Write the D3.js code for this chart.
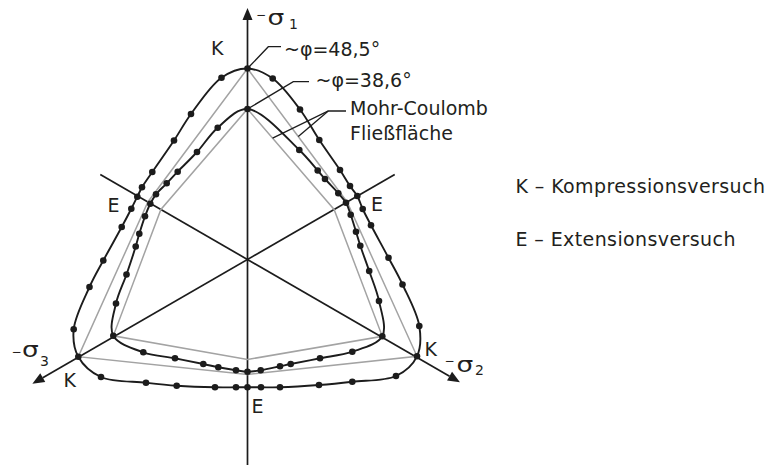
<!DOCTYPE html>
<html>
<head>
<meta charset="utf-8">
<script src="https://cdn.jsdelivr.net/npm/d3@7"></script>
<style>
  body { margin: 0; background: #fff; }
  svg { display: block; }
  text { font-family: "DejaVu Sans", sans-serif; fill: #231f20; }
</style>
</head>
<body>
<svg id="chart" width="766" height="467"></svg>
<script>
// Deviatoric (pi-) plane: x to the right, y up, hydrostatic axis at the origin.

// Measured yield points, phi ~ 48.5 deg (outer surface), clockwise from -sigma1
const yieldOuter = [
  [0, 1.91], [0.252, 1.81], [0.525, 1.50], [0.718, 1.195], [0.925, 0.895],
  [1.025, 0.735], [1.098, 0.635], [1.152, 0.505], [1.235, 0.342], [1.41, 0.017],
  [1.55, -0.25], [1.718, -0.665], [1.695, -0.968], [1.485, -1.165], [1.048, -1.222],
  [0.715, -1.255], [0.325, -1.278], [0.135, -1.278], [0, -1.278], [-0.115, -1.278],
  [-0.325, -1.278], [-0.708, -1.262], [-1.015, -1.232], [-1.465, -1.175], [-1.692, -0.972],
  [-1.738, -0.698], [-1.58, -0.275], [-1.442, -0.01], [-1.258, 0.325], [-1.162, 0.508],
  [-1.102, 0.628], [-1.055, 0.722], [-0.952, 0.875], [-0.735, 1.19], [-0.565, 1.455],
  [-0.26, 1.818]
];

// Measured yield points, phi ~ 38.6 deg (inner surface)
const yieldInner = [
  [0, 1.505], [0.518, 1.095], [0.702, 0.89], [0.775, 0.805], [0.908, 0.662],
  [0.985, 0.568], [1.032, 0.448], [1.085, 0.278], [1.128, 0.138], [1.217, -0.115],
  [1.315, -0.415], [1.348, -0.768], [1.048, -0.922], [0.725, -0.988], [0.432, -1.045],
  [0.325, -1.068], [0.132, -1.108], [0, -1.122], [-0.115, -1.108], [-0.292, -1.078],
  [-0.442, -1.045], [-0.725, -0.988], [-1.042, -0.928], [-1.342, -0.763], [-1.315, -0.44],
  [-1.21, -0.15], [-1.118, 0.13], [-1.082, 0.258], [-1.025, 0.432], [-0.972, 0.558],
  [-0.915, 0.652], [-0.808, 0.762], [-0.698, 0.878], [-0.505, 1.075], [-0.298, 1.318]
];

// Mohr-Coulomb hexagons: K, E, K, E, K, E corners
const mcOuter = [[0, 1.91], [0.996, 0.575], [1.695, -0.968], [0, -1.15], [-1.692, -0.972], [-0.996, 0.575]];
const mcInner = [[0, 1.505], [0.866, 0.5], [1.348, -0.768], [0, -1.0], [-1.342, -0.763], [-0.866, 0.5]];

// Principal stress axes: direction (deg), arrow length, tail length
const axisNames = ["1", "2", "3"];
const axisAngles = [90, -30, 210];
const axisHeads = [2.515, 2.453, 2.484];
const axisTails = [2.055, 1.70, 1.70];

const curveLabels = ["~φ=48,5°", "~φ=38,6°"];
const mcLabel = ["Mohr-Coulomb", "Fließfläche"];
const legendItems = ["K – Kompressionsversuch", "E – Extensionsversuch"];

const cx = 247.5, cy = 259.5, unit = 100;
const x = d3.scaleLinear().domain([-1, 1]).range([cx - unit, cx + unit]);
const y = d3.scaleLinear().domain([-1, 1]).range([cy + unit, cy - unit]);

const svg = d3.select("#chart");
const ink = "#1c1c1c";

// Axes through the hydrostatic point
const rad = a => a * Math.PI / 180;
axisAngles.forEach((a, i) => {
  const dx = Math.cos(rad(a)), dy = Math.sin(rad(a));
  const tip = [x(dx * axisHeads[i]), y(dy * axisHeads[i])];
  const tail = [x(-dx * axisTails[i]), y(-dy * axisTails[i])];
  const L = 12, W = 5;
  const ux = (tip[0] - tail[0]), uy = (tip[1] - tail[1]);
  const n = Math.hypot(ux, uy), ex = ux / n, ey = uy / n;
  const base = [tip[0] - ex * L, tip[1] - ey * L];
  svg.append("line")
    .attr("x1", tail[0]).attr("y1", tail[1])
    .attr("x2", base[0]).attr("y2", base[1])
    .attr("stroke", ink).attr("stroke-width", 1.7);
  svg.append("path")
    .attr("d", `M${tip[0]},${tip[1]}L${base[0] - ey * W},${base[1] + ex * W}L${base[0] + ey * W},${base[1] - ex * W}Z`)
    .attr("fill", ink);
});

// Mohr-Coulomb hexagons
const poly = d3.line().x(d => x(d[0])).y(d => y(d[1])).curve(d3.curveLinearClosed);
[mcOuter, mcInner].forEach(h => {
  svg.append("path").attr("d", poly(h))
    .attr("fill", "none").attr("stroke", "#a3a3a3").attr("stroke-width", 1.5)
    .attr("stroke-linejoin", "miter");
});

// Smooth yield surfaces through the test points
const smooth = d3.line().x(d => x(d[0])).y(d => y(d[1]))
  .curve(d3.curveCatmullRomClosed.alpha(0.5));
[yieldOuter, yieldInner].forEach(s => {
  svg.append("path").attr("d", smooth(s))
    .attr("fill", "none").attr("stroke", ink).attr("stroke-width", 1.9);
  svg.append("g").selectAll("circle").data(s).join("circle")
    .attr("cx", d => x(d[0])).attr("cy", d => y(d[1])).attr("r", 3.3)
    .attr("fill", ink);
});

// Leader lines and annotations
const lead = pts => svg.append("path")
  .attr("d", d3.line()(pts)).attr("fill", "none")
  .attr("stroke", ink).attr("stroke-width", 1.3);
const pt = d => [x(d[0]), y(d[1])];
const along = (a, b, t) => [x(a[0] + (b[0] - a[0]) * t), y(a[1] + (b[1] - a[1]) * t)];

lead([pt(yieldOuter[0]), [268.3, 46.7], [281, 46.7]]);
lead([pt(yieldInner[0]), [293.3, 81.7], [309, 81.7]]);
lead([[346, 111], [328.3, 111], along(mcInner[0], mcInner[1], 0.29)]);
lead([[328.3, 111], along(mcOuter[0], mcOuter[1], 0.51)]);

const txt = (s, px, py, size, extra) => {
  const t = svg.append("text").attr("x", px).attr("y", py)
    .attr("font-size", size).text(s);
  if (extra) t.attr("letter-spacing", extra);
  return t;
};

txt(curveLabels[0], 284, 56, 19);
txt(curveLabels[1], 315.5, 86.7, 19);
txt(mcLabel[0], 350, 115, 19);
txt(mcLabel[1], 350, 139.5, 19);

// K / E markers
txt("K", 211, 55, 19);
txt("E", 107.5, 211.7, 19);
txt("E", 371, 211, 19);
txt("E", 251.5, 413, 19);
txt("K", 424.5, 355.7, 19);
txt("K", 63.5, 386.7, 19);

// Axis names -sigma_i
const sigmaPos = [
  { m: [256, 18.7], s: [267.5, 25], i: [289, 29] },
  { m: [444.5, 365.4], s: [456.5, 371.7], i: [475, 375] },
  { m: [11.5, 355.7], s: [22, 357.3], i: [40, 365.5] }
];
sigmaPos.forEach((p, k) => {
  txt("−", p.m[0], p.m[1], 12);
  svg.append("text")
    .attr("transform", `translate(${p.s[0]},${p.s[1]}) scale(1.2,1)`)
    .attr("font-size", 22).text("σ");
  txt(axisNames[k], p.i[0], p.i[1], 14);
});

// Legend
legendItems.forEach((s, k) => txt(s, 515.5, [193.3, 246][k], 19, 0.4));
</script>
</body>
</html>
